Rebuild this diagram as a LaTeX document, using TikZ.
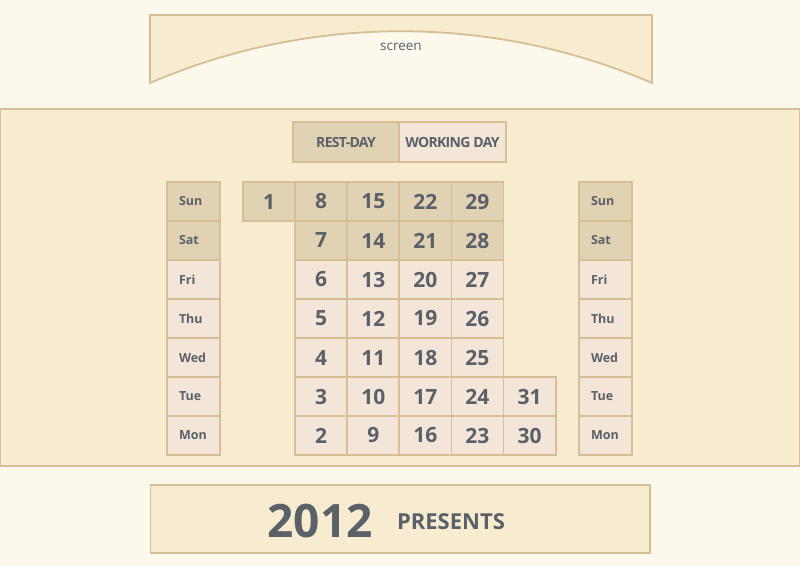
\documentclass[tikz,border=0pt]{standalone}
\usepackage{fontspec}
\setmainfont{Open Sans}
\definecolor{bg}{HTML}{FCF8EB}
\definecolor{band}{HTML}{F8ECD0}
\definecolor{edge}{HTML}{D6BF94}
\definecolor{rest}{HTML}{E0D2B2}
\definecolor{work}{HTML}{F3E6D8}
\definecolor{ink}{HTML}{5A6169}
\begin{document}
\begin{tikzpicture}[x=1pt,y=-1pt,
  box/.style={draw=edge,line width=1.8pt},
  cell/.style={box,minimum width=52.1pt,minimum height=39pt,inner sep=0pt,
    text=ink,font=\bfseries\fontsize{21}{21}\selectfont},
  restcell/.style={cell,fill=rest},
  workcell/.style={cell,fill=work},
  daycell/.style={box,minimum width=53pt,minimum height=39pt,inner sep=0pt,
    text width=29pt,align=left,
    text=ink,font=\bfseries\fontsize{12.5}{12.5}\selectfont},
  legend/.style={box,minimum width=106.5pt,minimum height=40pt,inner sep=0pt,
    text=ink,font=\bfseries\fontsize{14}{14}\selectfont\addfontfeature{LetterSpace=-5}}]
\useasboundingbox (0,0) rectangle (800,566);
\fill[bg] (0,0) rectangle (800,566);
% screen
\filldraw[box,fill=band,line join=miter] (150,83) -- (150,15) -- (652,15) -- (652,83)
  .. controls (492,14) and (310,14) .. (150,83) -- cycle;
\node[text=ink,font=\fontsize{13.5}{13.5}\selectfont,anchor=base] (screen) at (401,50.5) {screen};
% band
\filldraw[box,fill=band] (0,109) rectangle (800,466);
% legend
\node[legend,fill=rest] (restlg) at (346,142) {REST-DAY};
\node[legend,fill=work] (worklg) at (452.5,142) {WORKING DAY};
% day columns
\foreach \d/\r/\f in {Sun/0/rest,Sat/1/rest,Fri/2/work,Thu/3/work,Wed/4/work,Tue/5/work,Mon/6/work}{
  \node[daycell,fill=\f] (L\d) at (193.5,201.5+39*\r) {\d};
  \node[daycell,fill=\f] (R\d) at (605.5,201.5+39*\r) {\d};
}
% dates
\node[restcell] (d1) at (269.05,201.5) {1};
\foreach \n in {2,...,31}{
  \pgfmathtruncatemacro{\c}{floor((\n-2)/7)+1}
  \pgfmathtruncatemacro{\r}{6-mod(\n-2,7)}
  \ifnum\r<2
    \node[restcell] (d\n) at (243+52.1*\c+26.05,201.5+39*\r) {\n};
  \else
    \node[workcell] (d\n) at (243+52.1*\c+26.05,201.5+39*\r) {\n};
  \fi
}
% bottom banner
\filldraw[box,fill=band] (150.5,485) rectangle (650,553);
\node[text=ink,font=\bfseries\fontsize{46}{46}\selectfont,anchor=base] (year) at (320,537) {2012};
\node[text=ink,font=\bfseries\fontsize{22}{22}\selectfont,anchor=base] (presents) at (451,529) {PRESENTS};
\end{tikzpicture}
\end{document}
